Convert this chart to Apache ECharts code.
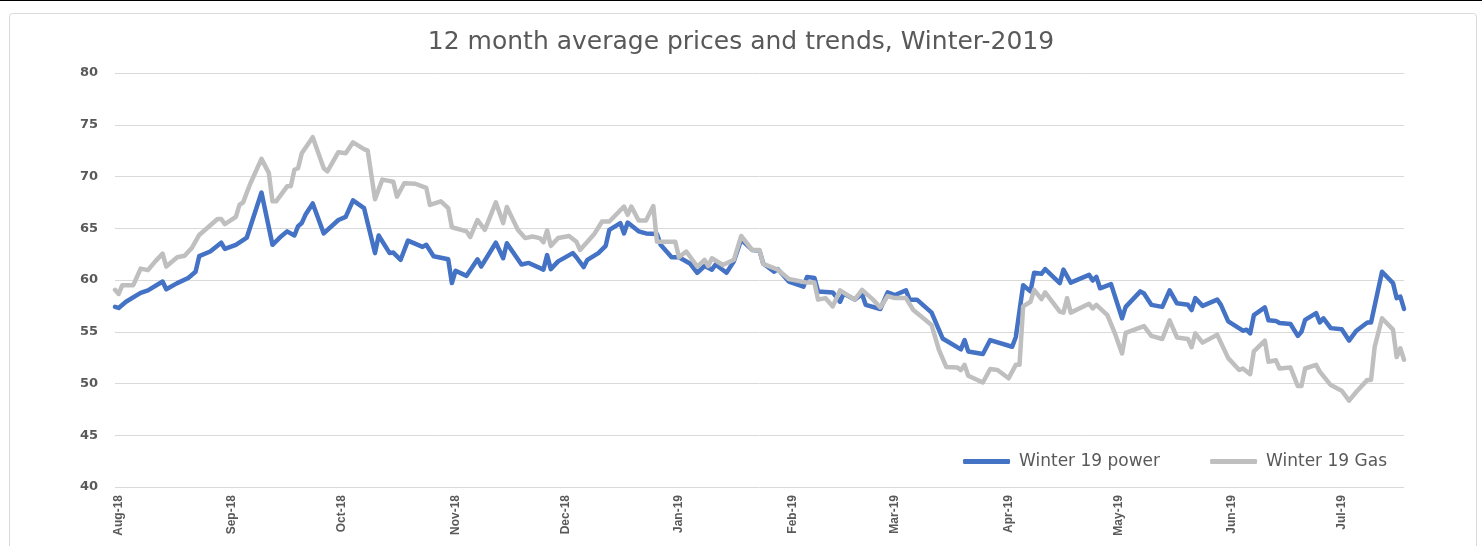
<!DOCTYPE html>
<html>
<head>
<meta charset="utf-8">
<script src="https://cdn.jsdelivr.net/npm/echarts@6/dist/echarts.min.js"></script>
<style>
html,body{margin:0;padding:0;background:#fff;}
#chart{width:1482px;height:546px;}
</style>
</head>
<body>
<div id="chart"></div>
<script>
var titleText = '12 month average prices and trends, Winter-2019';
var seriesNames = ['Winter 19 power', 'Winter 19 Gas'];
var monthNames = ['Jan','Feb','Mar','Apr','May','Jun','Jul','Aug','Sep','Oct','Nov','Dec'];
var yTicks = [40, 45, 50, 55, 60, 65, 70, 75, 80];

var powerDates = ['2018-07-31','2018-08-01','2018-08-03','2018-08-07','2018-08-09','2018-08-13','2018-08-14','2018-08-17','2018-08-20','2018-08-22','2018-08-23','2018-08-26','2018-08-29','2018-08-30','2018-09-02','2018-09-05','2018-09-09','2018-09-12','2018-09-14','2018-09-16','2018-09-18','2018-09-19','2018-09-20','2018-09-21','2018-09-23','2018-09-26','2018-09-30','2018-10-02','2018-10-04','2018-10-07','2018-10-10','2018-10-11','2018-10-14','2018-10-15','2018-10-17','2018-10-19','2018-10-23','2018-10-24','2018-10-26','2018-10-30','2018-10-31','2018-11-01','2018-11-04','2018-11-07','2018-11-08','2018-11-12','2018-11-14','2018-11-15','2018-11-19','2018-11-21','2018-11-25','2018-11-26','2018-11-27','2018-11-29','2018-12-03','2018-12-04','2018-12-06','2018-12-07','2018-12-10','2018-12-12','2018-12-13','2018-12-16','2018-12-17','2018-12-18','2018-12-21','2018-12-23','2018-12-26','2018-12-27','2018-12-30','2019-01-01','2019-01-04','2019-01-06','2019-01-08','2019-01-10','2019-01-11','2019-01-14','2019-01-16','2019-01-18','2019-01-21','2019-01-23','2019-01-24','2019-01-27','2019-01-28','2019-01-31','2019-02-04','2019-02-05','2019-02-07','2019-02-08','2019-02-12','2019-02-14','2019-02-15','2019-02-18','2019-02-20','2019-02-21','2019-02-25','2019-02-27','2019-03-01','2019-03-04','2019-03-05','2019-03-07','2019-03-11','2019-03-14','2019-03-19','2019-03-20','2019-03-21','2019-03-25','2019-03-27','2019-04-02','2019-04-03','2019-04-05','2019-04-07','2019-04-08','2019-04-10','2019-04-11','2019-04-15','2019-04-16','2019-04-18','2019-04-23','2019-04-24','2019-04-25','2019-04-26','2019-04-29','2019-05-02','2019-05-03','2019-05-07','2019-05-08','2019-05-10','2019-05-13','2019-05-15','2019-05-17','2019-05-20','2019-05-21','2019-05-22','2019-05-24','2019-05-28','2019-05-29','2019-05-31','2019-06-04','2019-06-05','2019-06-06','2019-06-07','2019-06-10','2019-06-11','2019-06-13','2019-06-14','2019-06-17','2019-06-19','2019-06-20','2019-06-21','2019-06-24','2019-06-25','2019-06-26','2019-06-28','2019-07-01','2019-07-03','2019-07-05','2019-07-08','2019-07-09','2019-07-12','2019-07-15','2019-07-16','2019-07-17','2019-07-18'];
var powerValues = [57.4,57.3,57.9,58.75,59.0,59.85,59.1,59.7,60.2,60.8,62.3,62.75,63.6,63.0,63.4,64.1,68.45,63.4,64.1,64.7,64.3,65.2,65.5,66.3,67.4,64.5,65.8,66.1,67.7,66.95,62.6,64.3,62.6,62.65,61.95,63.8,63.2,63.4,62.3,62.0,59.7,60.9,60.4,62.0,61.3,63.6,62.1,63.55,61.5,61.65,61.0,62.4,61.05,61.8,62.6,62.2,61.25,61.95,62.6,63.3,64.85,65.5,64.5,65.55,64.7,64.5,64.45,63.4,62.2,62.2,61.6,60.7,61.35,61.0,61.5,60.7,61.8,63.9,62.9,62.85,61.6,60.8,61.05,59.85,59.35,60.3,60.2,58.9,58.8,57.9,58.7,58.1,58.65,57.6,57.2,58.8,58.55,59.0,58.1,58.1,56.85,54.35,53.3,54.2,53.1,52.85,54.2,53.55,54.5,59.5,58.9,60.7,60.6,61.05,59.7,61.0,59.75,60.5,59.95,60.3,59.2,59.6,56.3,57.4,58.9,58.7,57.6,57.4,59.0,57.75,57.6,57.1,58.25,57.5,58.1,57.6,56.0,55.1,55.2,54.85,56.6,57.35,56.1,56.05,55.85,55.75,54.6,55.0,56.15,56.8,55.9,56.3,55.35,55.25,54.15,55.1,55.9,55.9,60.8,59.7,58.25,58.4,57.2];

var gasDates = ['2018-07-31','2018-08-01','2018-08-02','2018-08-05','2018-08-07','2018-08-09','2018-08-11','2018-08-13','2018-08-14','2018-08-17','2018-08-19','2018-08-21','2018-08-23','2018-08-28','2018-08-29','2018-08-30','2018-09-02','2018-09-03','2018-09-04','2018-09-05','2018-09-06','2018-09-09','2018-09-11','2018-09-12','2018-09-13','2018-09-16','2018-09-17','2018-09-18','2018-09-19','2018-09-20','2018-09-23','2018-09-26','2018-09-27','2018-09-30','2018-10-02','2018-10-04','2018-10-07','2018-10-08','2018-10-10','2018-10-12','2018-10-15','2018-10-16','2018-10-18','2018-10-21','2018-10-24','2018-10-25','2018-10-28','2018-10-30','2018-10-31','2018-11-04','2018-11-05','2018-11-07','2018-11-09','2018-11-12','2018-11-14','2018-11-15','2018-11-18','2018-11-20','2018-11-22','2018-11-24','2018-11-25','2018-11-26','2018-11-27','2018-11-29','2018-12-02','2018-12-04','2018-12-05','2018-12-09','2018-12-11','2018-12-13','2018-12-17','2018-12-18','2018-12-19','2018-12-21','2018-12-23','2018-12-25','2018-12-26','2018-12-31','2019-01-01','2019-01-03','2019-01-06','2019-01-08','2019-01-09','2019-01-10','2019-01-13','2019-01-16','2019-01-18','2019-01-21','2019-01-23','2019-01-24','2019-01-28','2019-01-31','2019-02-05','2019-02-07','2019-02-08','2019-02-10','2019-02-12','2019-02-14','2019-02-18','2019-02-20','2019-02-23','2019-02-25','2019-02-27','2019-03-01','2019-03-04','2019-03-06','2019-03-11','2019-03-13','2019-03-15','2019-03-18','2019-03-19','2019-03-20','2019-03-21','2019-03-25','2019-03-27','2019-03-29','2019-04-01','2019-04-03','2019-04-04','2019-04-05','2019-04-07','2019-04-08','2019-04-10','2019-04-11','2019-04-15','2019-04-16','2019-04-17','2019-04-18','2019-04-23','2019-04-24','2019-04-25','2019-04-28','2019-04-30','2019-05-02','2019-05-03','2019-05-08','2019-05-10','2019-05-13','2019-05-15','2019-05-17','2019-05-20','2019-05-21','2019-05-22','2019-05-24','2019-05-28','2019-05-31','2019-06-03','2019-06-04','2019-06-06','2019-06-07','2019-06-10','2019-06-11','2019-06-13','2019-06-14','2019-06-17','2019-06-19','2019-06-20','2019-06-21','2019-06-24','2019-06-25','2019-06-28','2019-07-01','2019-07-03','2019-07-05','2019-07-08','2019-07-09','2019-07-10','2019-07-12','2019-07-15','2019-07-16','2019-07-17','2019-07-18'];
var gasValues = [59.05,58.65,59.5,59.5,61.1,60.95,61.8,62.55,61.3,62.2,62.35,63.1,64.35,65.9,65.9,65.4,66.1,67.25,67.5,68.45,69.35,71.7,70.35,67.6,67.6,69.05,69.05,70.65,70.8,72.25,73.8,70.8,70.5,72.35,72.25,73.3,72.65,72.5,67.8,69.7,69.5,68.05,69.35,69.3,68.9,67.25,67.6,66.95,65.1,64.7,64.15,65.8,64.85,67.5,65.5,67.05,64.85,64.05,64.2,64.05,63.65,64.8,63.3,64.05,64.25,63.7,62.9,64.5,65.65,65.65,67.1,66.3,67.1,65.75,65.75,67.15,63.7,63.7,62.2,62.75,61.3,61.95,61.35,62.1,61.45,61.95,64.25,62.9,62.9,61.55,61.0,60.1,59.75,59.75,58.1,58.25,57.45,59.0,58.1,59.05,58.1,57.35,58.45,58.25,58.25,57.1,55.65,53.25,51.6,51.55,51.3,51.8,50.75,50.1,51.4,51.3,50.5,51.8,51.8,57.45,57.9,59.05,58.15,58.8,56.95,56.85,58.25,56.85,57.7,57.25,57.6,56.6,54.9,52.9,54.9,55.55,54.6,54.3,56.1,54.45,54.3,53.5,54.85,53.95,54.7,52.45,51.3,51.45,50.9,53.1,54.15,52.1,52.25,51.45,51.55,49.75,49.75,51.45,51.8,51.15,49.85,49.3,48.35,49.2,50.35,50.35,53.55,56.3,55.2,52.55,53.4,52.3];

var axisStart = '2018-07-31';
var axisEnd = '2019-07-18';

function pairs(dates, values) {
  return dates.map(function (d, i) { return [d, values[i]]; });
}

var chart = echarts.init(document.getElementById('chart'), null, { renderer: 'canvas' });
var DAY = 86400000;
chart.setOption({
  backgroundColor: '#ffffff',
  animation: false,
  title: {
    text: titleText,
    left: 'center',
    top: 25,
    textStyle: { fontFamily: 'DejaVu Sans', fontSize: 25, fontWeight: 'normal', color: '#595959' }
  },
  graphic: [
    { type: 'rect', left: 0, top: 0, shape: { width: 1482, height: 1 }, style: { fill: '#000' }, silent: true },
    { type: 'rect', left: 7, top: 11, shape: { width: 1467, height: 560, r: 3 }, style: { fill: 'none', stroke: '#d9d9d9', lineWidth: 1 }, silent: true, z: -10 }
  ],
  legend: {
    data: seriesNames,
    right: 90,
    top: 448,
    itemGap: 50,
    itemWidth: 47,
    itemHeight: 5,
    icon: 'roundRect',
    textStyle: { fontFamily: 'DejaVu Sans', fontSize: 17, color: '#595959', padding: [0, 0, 0, 4] }
  },
  grid: { left: 115, right: 78, top: 73, bottom: 59, containLabel: false },
  xAxis: {
    type: 'time',
    min: axisStart,
    max: axisEnd,
    splitNumber: 12,
    minInterval: 28 * DAY,
    maxInterval: 31 * DAY,
    axisLine: { show: false },
    axisTick: { show: false },
    splitLine: { show: false },
    axisLabel: {
      rotate: 90,
      margin: 8,
      showMinLabel: false,
      showMaxLabel: false,
      fontFamily: 'Liberation Sans',
      fontWeight: 'bold',
      fontSize: 12,
      color: '#595959',
      formatter: function (val) {
        var d = new Date(val);
        return monthNames[d.getMonth()] + '-' + String(d.getFullYear()).slice(2);
      }
    }
  },
  yAxis: {
    type: 'value',
    min: yTicks[0],
    max: yTicks[yTicks.length - 1],
    interval: yTicks[1] - yTicks[0],
    axisLine: { show: false },
    axisTick: { show: false },
    splitLine: { lineStyle: { color: '#d9d9d9', width: 1 } },
    axisLabel: {
      margin: 17,
      fontFamily: 'DejaVu Sans',
      fontWeight: 'bold',
      fontSize: 13,
      color: '#595959'
    }
  },
  series: [
    {
      name: seriesNames[0],
      type: 'line',
      data: pairs(powerDates, powerValues),
      showSymbol: false,
      symbol: 'none',
      lineStyle: { color: '#4472C4', width: 4.5, join: 'round', cap: 'round' },
      itemStyle: { color: '#4472C4' }
    },
    {
      name: seriesNames[1],
      type: 'line',
      data: pairs(gasDates, gasValues),
      showSymbol: false,
      symbol: 'none',
      lineStyle: { color: '#BFBFBF', width: 4.5, join: 'round', cap: 'round' },
      itemStyle: { color: '#BFBFBF' }
    }
  ]
});
</script>
</body>
</html>
